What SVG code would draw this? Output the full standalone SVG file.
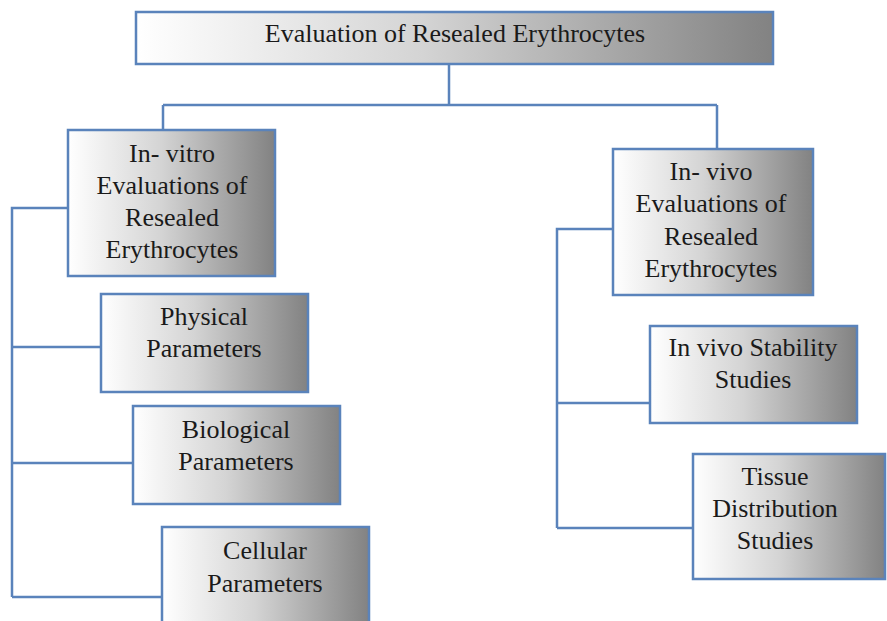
<svg xmlns="http://www.w3.org/2000/svg" width="887" height="621" viewBox="0 0 887 621">
<defs>
<linearGradient id="g" x1="0" y1="0" x2="1" y2="0">
<stop offset="0" stop-color="#ffffff"/>
<stop offset="0.45" stop-color="#d4d4d4"/>
<stop offset="1" stop-color="#828282"/>
</linearGradient>
<style>
.box{fill:url(#g);stroke:#5a83bb;stroke-width:2.5}
.t{font-size:26px;fill:#1a1a1a;text-anchor:middle}
.c{fill:none;stroke:#5a83bb;stroke-width:2.5}
</style>
</defs>
<rect width="887" height="621" fill="#ffffff"/>
<g id="connectors">
<path class="c" d="M449,64 V105 M163,105 H717 M163,105 V130 M717,105 V149"/>
<path class="c" d="M68,208 H12 V597 M12,347 H101 M12,463 H133 M12,597 H162"/>
<path class="c" d="M613,229 H557 V528 M557,403 H650 M557,528 H693"/>
</g>
<g id="root">
<rect class="box" x="136" y="12" width="637" height="52"/>
<text class="t" x="455" y="42" font-family="Liberation Serif">Evaluation of Resealed Erythrocytes</text>
</g>
<g id="invitro">
<rect class="box" x="68" y="130" width="207" height="146"/>
<text class="t" x="172" y="162" font-family="Liberation Serif">In- vitro</text>
<text class="t" x="172" y="194" font-family="Liberation Serif">Evaluations of</text>
<text class="t" x="172" y="226" font-family="Liberation Serif">Resealed</text>
<text class="t" x="172" y="258" font-family="Liberation Serif">Erythrocytes</text>
</g>
<g id="physical">
<rect class="box" x="101" y="294" width="207" height="98"/>
<text class="t" x="204" y="325" font-family="Liberation Serif">Physical</text>
<text class="t" x="204" y="357" font-family="Liberation Serif">Parameters</text>
</g>
<g id="biological">
<rect class="box" x="133" y="406" width="207" height="98"/>
<text class="t" x="236" y="438" font-family="Liberation Serif">Biological</text>
<text class="t" x="236" y="470" font-family="Liberation Serif">Parameters</text>
</g>
<g id="cellular">
<rect class="box" x="162" y="527" width="207" height="110"/>
<text class="t" x="265" y="559" font-family="Liberation Serif">Cellular</text>
<text class="t" x="265" y="592" font-family="Liberation Serif">Parameters</text>
</g>
<g id="invivo">
<rect class="box" x="613" y="149" width="200" height="146"/>
<text class="t" x="711" y="180" font-family="Liberation Serif">In- vivo</text>
<text class="t" x="711" y="212" font-family="Liberation Serif">Evaluations of</text>
<text class="t" x="711" y="245" font-family="Liberation Serif">Resealed</text>
<text class="t" x="711" y="277" font-family="Liberation Serif">Erythrocytes</text>
</g>
<g id="stability">
<rect class="box" x="650" y="326" width="207" height="97"/>
<text class="t" x="753" y="356" font-family="Liberation Serif">In vivo Stability</text>
<text class="t" x="753" y="388" font-family="Liberation Serif">Studies</text>
</g>
<g id="tissue">
<rect class="box" x="693" y="454" width="192" height="125"/>
<text class="t" x="775" y="485" font-family="Liberation Serif">Tissue</text>
<text class="t" x="775" y="517" font-family="Liberation Serif">Distribution</text>
<text class="t" x="775" y="549" font-family="Liberation Serif">Studies</text>
</g>
</svg>
